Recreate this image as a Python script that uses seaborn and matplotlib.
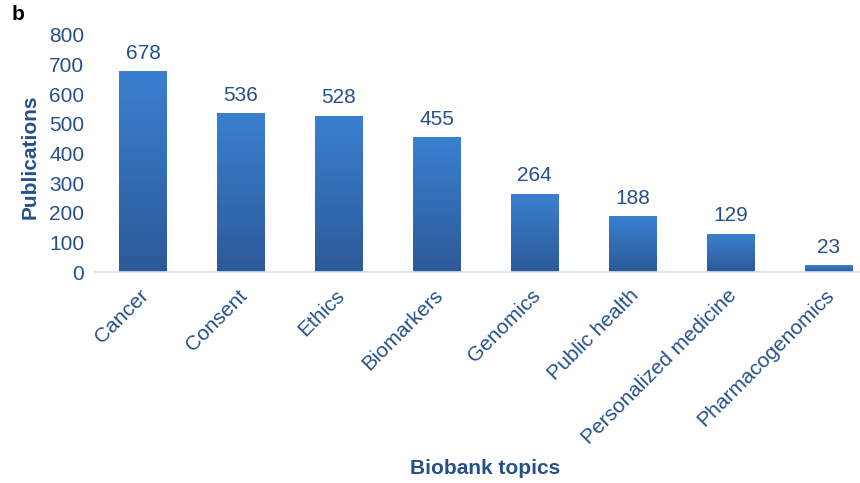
import numpy as np
import pandas as pd
import matplotlib
matplotlib.use("Agg")
import matplotlib.pyplot as plt
import seaborn as sns
from matplotlib.colors import LinearSegmentedColormap

topics = ["Cancer", "Consent", "Ethics", "Biomarkers", "Genomics",
          "Public health", "Personalized medicine", "Pharmacogenomics"]
publications = [678, 536, 528, 455, 264, 188, 129, 23]
yticks = [0, 100, 200, 300, 400, 500, 600, 700, 800]

df = pd.DataFrame({"topic": topics, "pubs": publications})

sns.set_theme(style="white")
plt.rcParams["font.family"] = ["Liberation Sans", "DejaVu Sans"]

TXT = "#26508a"
FS = 15
fig = plt.figure(figsize=(8.6, 4.83), dpi=100)
ax = fig.add_axes([94/860, 1-272/483, (860-94)/860, (272-35)/483])

sns.barplot(data=df, x="topic", y="pubs", color="#3674c4", width=0.49,
            ax=ax, saturation=1)

cmap = LinearSegmentedColormap.from_list("g", ["#2c5a98", "#3a80d0"])
grad = np.linspace(0, 1, 256).reshape(-1, 1)
for p in ax.patches:
    x0, y0 = p.get_x(), p.get_y()
    w, h = p.get_width(), p.get_height()
    p.set_facecolor("none")
    p.set_edgecolor("none")
    im = ax.imshow(grad, cmap=cmap, origin="lower", aspect="auto",
                   extent=[x0, x0 + w, y0, y0 + h], zorder=2)
    im.set_clip_path(p)

for i, v in enumerate(publications):
    ax.annotate(str(v), (i, v), xytext=(0, 6), textcoords="offset points",
                ha="center", va="bottom", fontsize=FS, color=TXT)

ax.set_xlim(-0.5, 7.32)
ax.set_ylim(0, 800)
ax.set_yticks(yticks)
ax.set_yticklabels([str(t) for t in yticks], fontsize=FS, color=TXT)
ax.tick_params(axis="y", length=0, pad=7)
ax.tick_params(axis="x", length=0, pad=4)
ax.set_xticks(range(len(topics)))
ax.set_xticklabels(topics, rotation=45, ha="right", va="center",
                   rotation_mode="anchor", fontsize=FS, color=TXT)
for lab in ax.get_xticklabels():
    lab.set_transform(lab.get_transform() +
                      matplotlib.transforms.ScaledTranslation(3/100, -15/100, fig.dpi_scale_trans))

for s in ["top", "right", "left"]:
    ax.spines[s].set_visible(False)
ax.spines["bottom"].set_color("#d3e1f2")
ax.spines["bottom"].set_linewidth(1.2)

ax.set_xlabel("")
ax.set_ylabel("")
fig.text(30/860, 1-157/483, "Publications", rotation=90, ha="center",
         va="center", fontsize=FS, fontweight="bold", color=TXT)
fig.text(485/860, 1-468/483, "Biobank topics", ha="center", va="center",
         fontsize=FS, fontweight="bold", color=TXT)
fig.text(12/860, 1-15/483, "b", ha="left", va="center", fontsize=FS,
         fontweight="bold", color="black")

fig.savefig("out.png", dpi=100)
